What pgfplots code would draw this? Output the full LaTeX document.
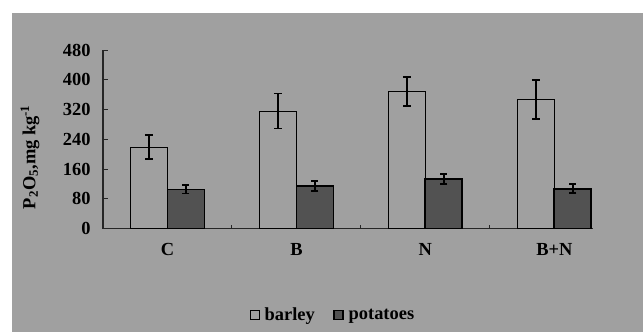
\documentclass[border=0pt]{standalone}
\usepackage{pgfplots}
\pgfplotsset{compat=1.18}
\usepackage{fontspec}
\setmainfont{Liberation Serif}
\definecolor{bgray}{RGB}{160,160,160}
\definecolor{dgray}{RGB}{82,82,82}
\begin{document}
\begin{tikzpicture}[x=1bp,y=1bp]
\fill[white] (0,0) rectangle (643,332);
\fill[bgray] (12,0) rectangle (643,319);
\begin{axis}[
  at={(103bp,103.5bp)}, anchor=south west,
  scale only axis, width=490bp, height=178.5bp,
  xmin=-0.5, xmax=3.3, ymin=0, ymax=480,
  axis x line*=bottom, axis y line*=left,
  axis line style={line width=1.3bp, black!85},
  tick align=inside,
  ytick={0,80,...,480},
  xtick={0,1,2,3},
  xticklabels={C,B,N,B+N},
  minor xtick={0.5,1.5,2.5},
  major tick length=5bp, minor tick length=4bp,
  every major x tick/.append style={draw=none},
  tick style={line width=1bp, black!85},
  /pgf/number format/assume math mode=true,
  tick label style={font=\bfseries\fontsize{18.5}{20}\selectfont},
  xticklabel style={yshift=-11bp},
  yticklabel style={xshift=-9bp},
  ylabel={P\textsubscript{2}O\textsubscript{5},mg kg\textsuperscript{-1}},
  ylabel style={at={(axis description cs:-0.149,0.40)}, anchor=center, font=\bfseries\fontsize{18.5}{20}\selectfont},
  legend style={at={(axis description cs:0.4694,-0.4846)}, anchor=center, draw=none, fill=none,
    font=\bfseries\fontsize{18.5}{20}\selectfont, legend columns=2,
    /tikz/every odd column/.append style={column sep=3bp},
    /tikz/every even column/.append style={column sep=16bp},
    nodes={inner sep=2bp}},
  legend image code/.code={\draw[#1] (0bp,-4.5bp) rectangle (9bp,4.5bp);},
]
\addplot[ybar, bar width=0.287, bar shift=0, draw=black, line width=0.9bp, fill=none,
  error bars/.cd, y dir=both, y explicit,
  error bar style={line width=1.8bp, black},
  error mark options={rotate=90, mark size=4bp, line width=1.8bp, black}]
  coordinates {(-0.1435,219) +- (0,33) (0.8565,316) +- (0,47) (1.8565,368) +- (0,39) (2.8565,347) +- (0,53)};
\addlegendentry{barley}
\addplot[ybar, bar width=0.287, bar shift=0, draw=black, line width=1.8bp, fill=dgray,
  error bars/.cd, y dir=both, y explicit,
  error bar style={line width=1.8bp, black},
  error mark options={rotate=90, mark size=3.5bp, line width=1.8bp, black}]
  coordinates {(0.1435,105) +- (0,11) (1.1435,114) +- (0,13) (2.1435,133) +- (0,14) (3.1435,107) +- (0,12)};
\addlegendentry{potatoes}
\end{axis}
\end{tikzpicture}
\end{document}
